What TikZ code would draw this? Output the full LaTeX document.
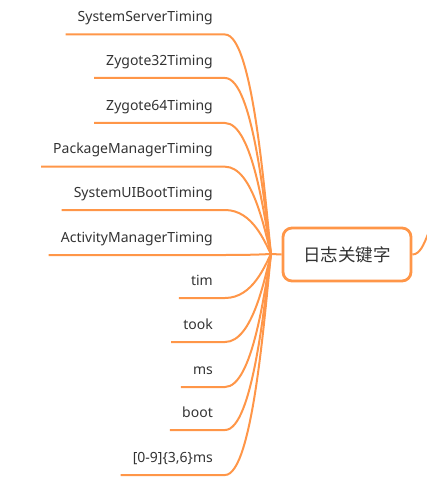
\documentclass[tikz,border=0pt]{standalone}
\usepackage{fontspec}
\usetikzlibrary{calc}
\setmainfont{Noto Sans}
\newfontfamily\cjk{Noto Sans CJK SC}
\definecolor{br}{RGB}{255,150,72}
\definecolor{tx}{RGB}{51,51,51}
\begin{document}
\begin{tikzpicture}[x=1pt,y=-1pt,
  leaf/.style={anchor=south east,inner xsep=12pt,inner ysep=9.5pt,text height=10pt,text depth=3pt,font=\fontsize{14}{16}\selectfont,text=tx},
  branch/.style={draw=br,line width=2pt},
  rootbox/.style={draw=br,line width=2.8pt,rounded corners=9pt,minimum width=128pt,minimum height=53pt,fill=white,text=tx,font=\cjk\fontsize{17.5}{20}\selectfont}]
\useasboundingbox (0,0) rectangle (427,486);
\coordinate (hub) at (271,254);
\node[rootbox] (root) at (347,254.5) {日志关键字};
\coordinate (out) at (428,234);
\node[leaf] (a1) at (225,34.5) {SystemServerTiming};
\node[leaf] (a2) at (225,78) {Zygote32Timing};
\node[leaf] (a3) at (225,123) {Zygote64Timing};
\node[leaf] (a4) at (225,166.7) {PackageManagerTiming};
\node[leaf] (a5) at (225,210) {SystemUIBootTiming};
\node[leaf] (a6) at (225,255) {ActivityManagerTiming};
\node[leaf] (a7) at (225,298) {tim};
\node[leaf] (a8) at (225,342) {took};
\node[leaf] (a9) at (225,387) {ms};
\node[leaf] (a10) at (225,430) {boot};
\node[leaf] (a11) at (225,475) {[0-9]\{3,6\}ms};
\foreach \n in {a1,a2,a3,a4,a5,a6,a7,a8,a9,a10,a11}{
  \path (\n.south east) coordinate (e);
  \draw[branch] (\n.south west) -- (\n.south east) .. controls ([xshift=28pt]\n.south east) and ($(hub)!0.25!(hub|-e)+(-6pt,0)$) .. (hub);
}
\draw[branch] (hub) -- (root.west);
\draw[branch] (root.east) .. controls (420,254.5) and (424,244) .. (out);
\end{tikzpicture}
\end{document}
